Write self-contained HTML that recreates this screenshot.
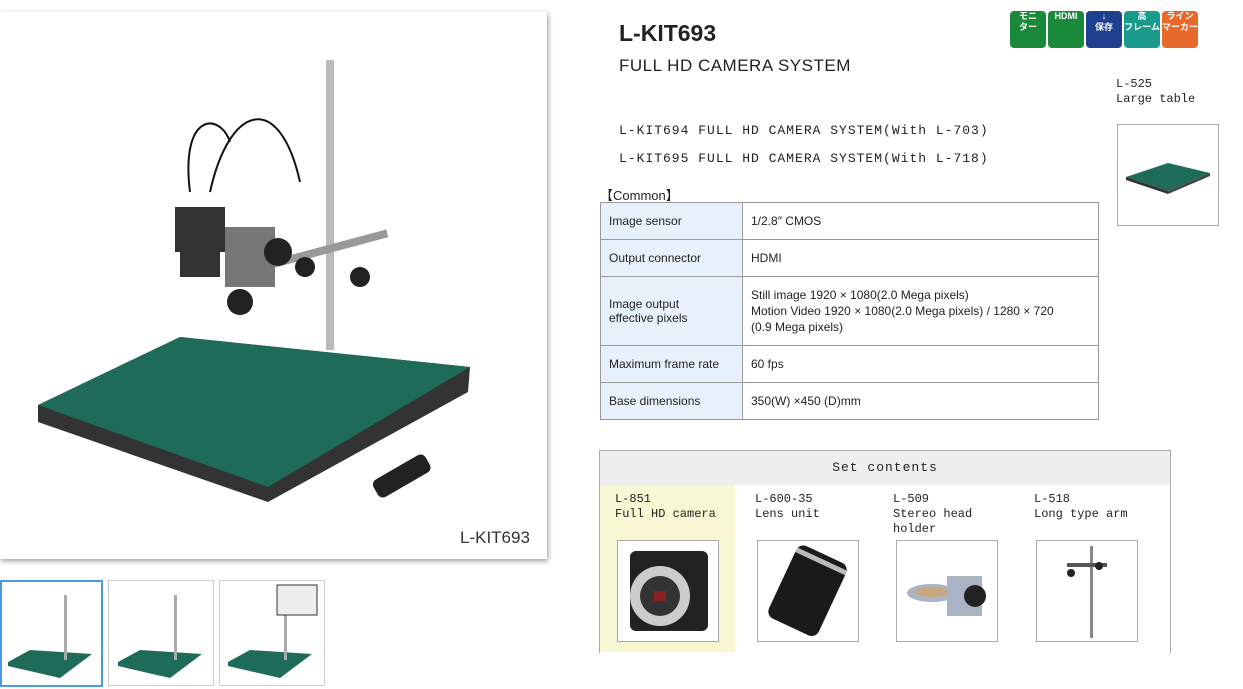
<!DOCTYPE html><html><head><meta charset="utf-8"><style>
body{margin:0;width:1243px;height:689px;background:#fff;position:relative;overflow:hidden;font-family:"Liberation Sans","Noto Sans CJK JP",sans-serif;color:#222}
.a{position:absolute}
.m{font-family:"Liberation Mono","Noto Sans CJK JP",monospace;font-size:12px;letter-spacing:0;line-height:15px}
table{border-collapse:collapse;font-size:12px}
td{border:1px solid #999;padding:0 8px}
td.l{background:#e6f1fb;width:125px}
.ib{position:absolute;border:1px solid #aaa;background:#fff;width:100px;height:100px}
.ic{position:absolute;top:11px;width:36px;height:37px;border-radius:4px;color:#fff;font-size:9px;font-weight:bold;text-align:center;line-height:11px}
</style></head><body>
<div class="a" style="left:0;top:12px;width:547px;height:547px;box-shadow:1px 2px 5px #999;background:#fff">
<svg width="547" height="547">
<polygon points="38,393 180,325 470,355 468,380 268,490 38,410" fill="#333"/>
<polygon points="38,393 180,325 470,355 268,475" fill="#1f6b5a"/>
<rect x="326" y="48" width="8" height="290" fill="#bbb"/>
<rect x="230" y="238" width="160" height="8" fill="#999" transform="rotate(-15 310 242)"/>
<rect x="175" y="195" width="50" height="45" fill="#333"/>
<rect x="180" y="240" width="40" height="25" fill="#333"/>
<rect x="225" y="215" width="50" height="60" fill="#777"/>
<circle cx="278" cy="240" r="14" fill="#222"/><circle cx="240" cy="290" r="13" fill="#222"/><circle cx="305" cy="255" r="10" fill="#222"/><circle cx="360" cy="265" r="10" fill="#222"/>
<path d="M190 180 C180 100 220 100 230 130 M210 180 C230 90 280 80 300 170" stroke="#111" stroke-width="2" fill="none"/>
<rect x="372" y="455" width="60" height="20" rx="6" fill="#222" transform="rotate(-30 400 465)"/>
<text x="460" y="531" font-size="17" fill="#333">L-KIT693</text>
</svg></div>
<div class="a" style="left:0;top:580px;width:99px;height:103px;border:2px solid #4a9be0"></div>
<div class="a" style="left:108px;top:580px;width:104px;height:104px;border:1px solid #ccc"></div>
<div class="a" style="left:219px;top:580px;width:104px;height:104px;border:1px solid #ccc"></div>
<svg class="a" style="left:0;top:580px" width="330" height="105">
<g><polygon points="8,82 30,70 92,74 60,98 8,86" fill="#1f6b5a"/><rect x="64" y="15" width="3" height="65" fill="#aaa"/></g>
<g transform="translate(110,0)"><polygon points="8,82 30,70 92,74 60,98 8,86" fill="#1f6b5a"/><rect x="64" y="15" width="3" height="65" fill="#aaa"/></g>
<g transform="translate(220,0)"><polygon points="8,82 30,70 92,74 60,98 8,86" fill="#1f6b5a"/><rect x="64" y="15" width="3" height="65" fill="#aaa"/><rect x="57" y="5" width="40" height="30" fill="#eee" stroke="#333"/></g>
</svg>
<div class="a" style="left:619px;top:20px;font-size:23px;font-weight:bold;color:#222">L-KIT693</div>
<div class="a" style="left:619px;top:56px;font-size:17px;letter-spacing:.5px">FULL HD CAMERA SYSTEM</div>
<div class="a m" style="left:619px;top:117px;font-size:13px;line-height:28px;letter-spacing:1px">L-KIT694 FULL HD CAMERA SYSTEM(With L-703)<br>L-KIT695 FULL HD CAMERA SYSTEM(With L-718)</div>
<div class="a" style="left:600px;top:185px;font-size:13px">【Common】</div>
<table class="a" style="left:600px;top:202px;width:499px">
<tr style="height:37px"><td class="l">Image sensor</td><td>1/2.8″ CMOS</td></tr>
<tr style="height:37px"><td class="l">Output connector</td><td>HDMI</td></tr>
<tr style="height:69px"><td class="l">Image output<br>effective pixels</td><td style="line-height:16px">Still image 1920 × 1080(2.0 Mega pixels)<br>Motion Video 1920 × 1080(2.0 Mega pixels) / 1280 × 720<br>(0.9 Mega pixels)</td></tr>
<tr style="height:37px"><td class="l">Maximum frame rate</td><td>60 fps</td></tr>
<tr style="height:37px"><td class="l">Base dimensions</td><td>350(W) ×450 (D)mm</td></tr>
</table>
<div class="ic" style="left:1010px;background:#1a8a3a">モニ<br>ター</div>
<div class="ic" style="left:1048px;background:#1a8a3a">HDMI</div>
<div class="ic" style="left:1086px;background:#1f3f8f">↓<br>保存</div>
<div class="ic" style="left:1124px;background:#1a9a8a">高<br>フレーム</div>
<div class="ic" style="left:1162px;background:#e86a2a">ライン<br>マーカー</div>
<div class="a m" style="left:1116px;top:77px">L-525<br>Large table</div>
<div class="ib" style="left:1117px;top:124px"><svg width="100" height="100"><polygon points="8,52 50,38 92,48 50,66" fill="#1f6b5a"/><polygon points="8,52 50,66 50,69 8,55" fill="#333"/><polygon points="50,66 92,48 92,51 50,69" fill="#444"/></svg></div>
<div class="a" style="left:599px;top:450px;width:570px;height:202px;border:1px solid #aaa;border-bottom:none"></div>
<div class="a m" style="left:600px;top:451px;width:570px;height:34px;background:#eee;text-align:center;line-height:34px;font-size:13px;letter-spacing:1px">Set contents</div>
<div class="a" style="left:600px;top:485px;width:135px;height:167px;background:#f7f7d4"></div>
<div class="a m" style="left:615px;top:492px">L-851<br>Full HD camera</div>
<div class="a m" style="left:755px;top:492px">L-600-35<br>Lens unit</div>
<div class="a m" style="left:893px;top:492px">L-509<br>Stereo head<br>holder</div>
<div class="a m" style="left:1034px;top:492px">L-518<br>Long type arm</div>
<div class="ib" style="left:617px;top:540px"><svg width="100" height="100"><rect x="12" y="10" width="78" height="80" rx="6" fill="#222"/><circle cx="42" cy="55" r="30" fill="#ccc"/><circle cx="42" cy="55" r="20" fill="#333"/><rect x="36" y="50" width="12" height="10" fill="#822"/></svg></div>
<div class="ib" style="left:757px;top:540px"><svg width="100" height="100"><g transform="rotate(25 50 50)"><rect x="22" y="10" width="55" height="80" rx="8" fill="#1a1a1a"/><rect x="22" y="15" width="55" height="5" fill="#bbb"/></g></svg></div>
<div class="ib" style="left:896px;top:540px"><svg width="100" height="100"><ellipse cx="35" cy="52" rx="25" ry="9" fill="#aab4c4"/><ellipse cx="35" cy="51" rx="17" ry="5" fill="#c9a880"/><rect x="50" y="35" width="35" height="40" fill="#aab4c4"/><circle cx="78" cy="55" r="11" fill="#222"/></svg></div>
<div class="ib" style="left:1036px;top:540px"><svg width="100" height="100"><rect x="53" y="5" width="3" height="92" fill="#888"/><rect x="30" y="22" width="40" height="4" fill="#555"/><circle cx="34" cy="32" r="4" fill="#222"/><circle cx="62" cy="25" r="4" fill="#222"/></svg></div>
</body></html>
